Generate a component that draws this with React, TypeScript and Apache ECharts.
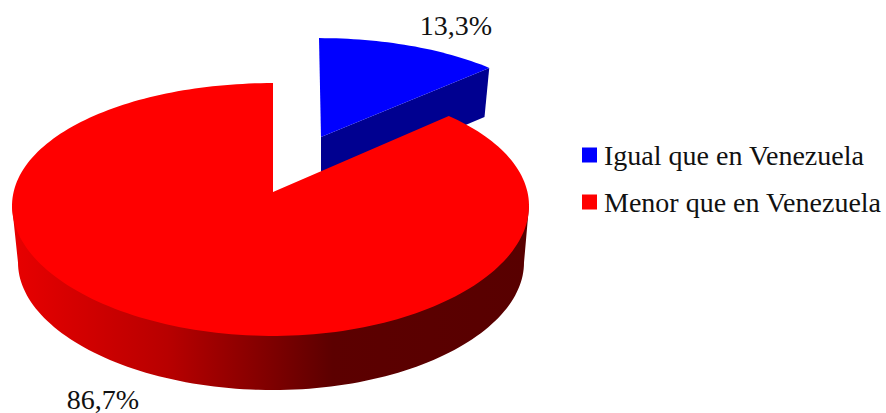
import React, { useEffect, useRef } from "react";
import * as echarts from "echarts";

const categories = ["Igual que en Venezuela", "Menor que en Venezuela"];
const shares = [13.3, 86.7];
const sliceColors = ["#0000ff", "#ff0000"];
const labelPositions = [
  [456, 25],
  [103, 399],
];

const FONT = "Liberation Serif";
const KX = 0.11;
const KY = 0.1384;
const AY = 124;

type Geo = { ax: number; ay: number; rl: number; rr: number; sy: number; skew: number };

function project(g: Geo, theta: number): number[] {
  const u = Math.sin(theta);
  const v = Math.cos(theta);
  const r = u < 0 ? g.rl : g.rr;
  return [
    g.ax + (r * Math.sqrt(1 - KX * KX) * u) / (1 + KX * v) + g.skew * v,
    g.ay - (g.sy * AY * v) / (1 + KY * v),
  ];
}

function arc(g: Geo, from: number, to: number): number[][] {
  const steps = Math.max(8, Math.ceil((Math.abs(to - from) / (Math.PI * 2)) * 240));
  const pts: number[][] = [];
  for (let i = 0; i <= steps; i++) pts.push(project(g, from + ((to - from) * i) / steps));
  return pts;
}

const blueTop: Geo = { ax: 321, ay: 137, rl: 247, rr: 247, sy: 0.908, skew: -2 };
const blueBottom: Geo = { ax: 319, ay: 186, rl: 243, rr: 243, sy: 0.908, skew: -2 };
const redTop: Geo = { ax: 273, ay: 192, rl: 261, rr: 256, sy: 1, skew: 0 };
const redBottom: Geo = { ax: 273, ay: 249, rl: 255, rr: 251, sy: 0.98, skew: 0 };

const pctLabel = (v: number) => `${v.toFixed(1).replace(".", ",")}%`;
const textChild = (v: number, pos: number[]) => ({
  type: "text",
  x: pos[0],
  y: pos[1],
  style: {
    text: pctLabel(v),
    fill: "#111111",
    font: `28px "${FONT}"`,
    textAlign: "center",
    textVerticalAlign: "middle",
  },
});

const total = shares.reduce((a, b) => a + b, 0);
const sweep0 = (shares[0] / total) * Math.PI * 2;

const renderBlue = (_: any, api: any) => {
  const v = api.value(0);
  const end = (v / total) * Math.PI * 2;
  const tip = project(blueTop, end);
  const tipB = project(blueBottom, end);
  return {
    type: "group",
    children: [
      {
        type: "polygon",
        shape: { points: [[blueTop.ax, blueTop.ay], tip, tipB, [blueBottom.ax + 2, blueBottom.ay]] },
        style: { fill: "#000090" },
      },
      {
        type: "polygon",
        shape: { points: [[blueTop.ax, blueTop.ay], ...arc(blueTop, 0, end)] },
        style: { fill: sliceColors[0] },
      },
      textChild(v, labelPositions[0]),
    ],
  };
};

const renderRed = (_: any, api: any) => {
  const v = api.value(0);
  const start = sweep0;
  const end = start + (v / total) * Math.PI * 2;
  const widest = Math.acos(-KX);
  const lowerBottom = arc(redBottom, widest, Math.PI * 2 - widest);
  const side = [project(redTop, widest), ...lowerBottom, project(redTop, Math.PI * 2 - widest)];
  return {
    type: "group",
    children: [
      {
        type: "polygon",
        shape: { points: side },
        style: {
          fill: new echarts.graphic.LinearGradient(0, 0, 1, 0, [
            { offset: 0, color: "#e80000" },
            { offset: 0.3, color: "#b80000" },
            { offset: 0.62, color: "#5c0000" },
            { offset: 1, color: "#580000" },
          ]),
        },
      },
      {
        type: "polygon",
        shape: { points: [[redTop.ax, redTop.ay], ...arc(redTop, start, end)] },
        style: { fill: sliceColors[1] },
      },
      textChild(v, labelPositions[1]),
    ],
  };
};

export default function App() {
  const ref = useRef<HTMLDivElement>(null);
  useEffect(() => {
    const chart = echarts.init(ref.current!, null, { renderer: "svg" });
    chart.setOption({
      animation: false,
      backgroundColor: "#ffffff",
      legend: {
        orient: "vertical",
        left: 582,
        top: 141,
        padding: 0,
        itemWidth: 15,
        itemHeight: 15,
        itemGap: 19,
        icon: "rect",
        selectedMode: false,
        data: categories,
        textStyle: { fontFamily: FONT, fontSize: 28, color: "#111111", padding: [0, 0, 0, 2] },
      },
      series: [
        {
          type: "custom",
          name: categories[0],
          coordinateSystem: "none",
          silent: true,
          itemStyle: { color: sliceColors[0] },
          renderItem: renderBlue,
          data: [[shares[0]]],
        },
        {
          type: "custom",
          name: categories[1],
          coordinateSystem: "none",
          silent: true,
          itemStyle: { color: sliceColors[1] },
          renderItem: renderRed,
          data: [[shares[1]]],
        },
      ],
    });
    return () => chart.dispose();
  }, []);
  return <div ref={ref} style={{ position: "fixed", left: 0, top: 0, width: 886, height: 413 }} />;
}
